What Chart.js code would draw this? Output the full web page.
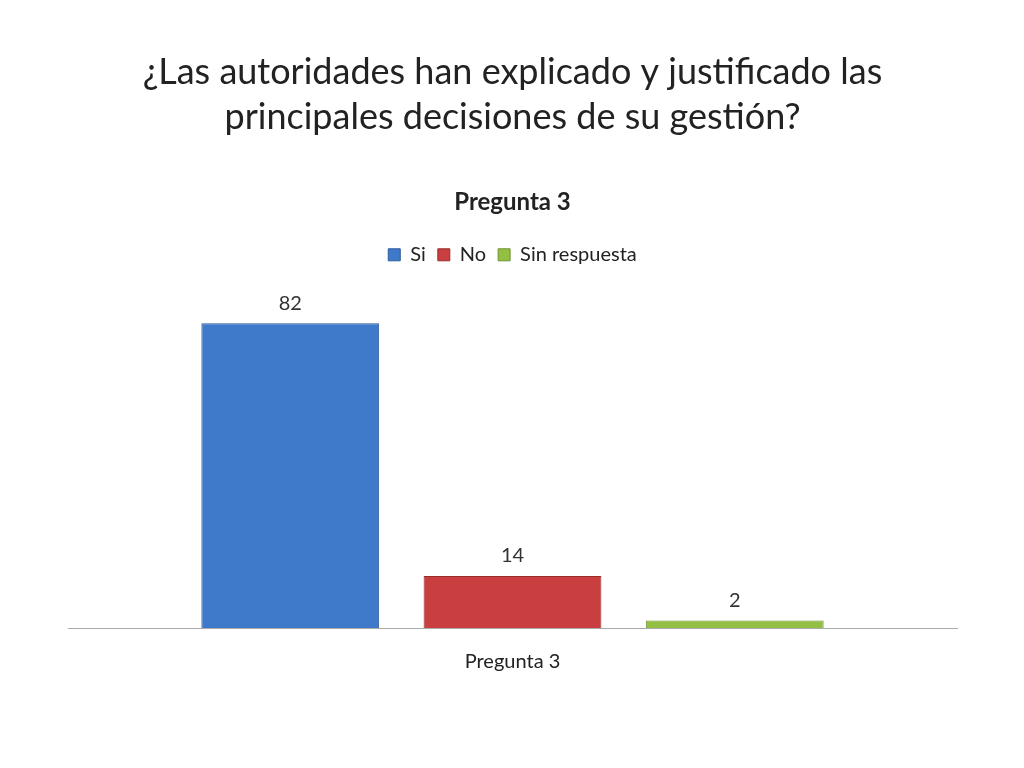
<!DOCTYPE html>
<html>
<head>
<meta charset="utf-8">
<script src="https://cdn.jsdelivr.net/npm/chart.js@4"></script>
<style>
  body { margin: 0; background: #fff; }
</style>
</head>
<body>
<canvas id="chart" width="1024" height="768"></canvas>
<script>
// Datos del gráfico
const categories = ['Pregunta 3'];
const seriesNames = ['Si', 'No', 'Sin respuesta'];
const seriesValues = [[82], [14], [2]];
const seriesColors = ['#3F79CA', '#C93E3E', '#93C043'];
const seriesBorders = ['#2C5A9C', '#9A2C2C', '#6E9330'];

const font = 'Lato, "Liberation Sans", sans-serif';

// Etiquetas de valores encima de las barras
const valueLabels = {
    id: 'valueLabels',
    afterDatasetsDraw(chart) {
        const c = chart.ctx;
        c.save();
        c.font = '20px ' + font;
        c.fillStyle = '#333';
        c.textAlign = 'center';
        c.textBaseline = 'bottom';
        chart.data.datasets.forEach((ds, i) => {
            chart.getDatasetMeta(i).data.forEach((bar, j) => {
                c.fillText(ds.data[j], bar.x, bar.y - 10);
            });
        });
        c.restore();
    }
};

new Chart(document.getElementById('chart'), {
    type: 'bar',
    data: {
        labels: categories,
        datasets: seriesNames.map((name, i) => ({
            label: name,
            data: seriesValues[i],
            backgroundColor: seriesColors[i],
            borderColor: seriesBorders[i],
            borderWidth: 1,
            categoryPercentage: 0.75,
            barPercentage: 0.8
        }))
    },
    options: {
        responsive: false,
        animation: false,
        layout: { padding: { left: 68, right: 67, bottom: 80, top: 0 } },
        plugins: {
            title: {
                display: true,
                text: ['¿Las autoridades han explicado y justificado las', 'principales decisiones de su gestión?'],
                font: { family: font, size: 36, weight: 'normal', lineHeight: 1.25 },
                color: '#222',
                padding: { top: 50, bottom: 48 }
            },
            subtitle: {
                display: true,
                text: 'Pregunta 3',
                font: { family: font, size: 24, weight: 'bold' },
                color: '#222',
                padding: { top: 0, bottom: 16 }
            },
            legend: {
                labels: {
                    font: { family: font, size: 20 },
                    color: '#222',
                    boxWidth: 12,
                    boxHeight: 12,
                    padding: 12
                }
            },
            tooltip: { enabled: false }
        },
        scales: {
            x: {
                grid: { display: false },
                border: { color: '#aaa' },
                ticks: { font: { family: font, size: 20 }, color: '#222', padding: 14 }
            },
            y: { display: false, min: 0, max: 95 }
        }
    },
    plugins: [valueLabels]
});
</script>
</body>
</html>
